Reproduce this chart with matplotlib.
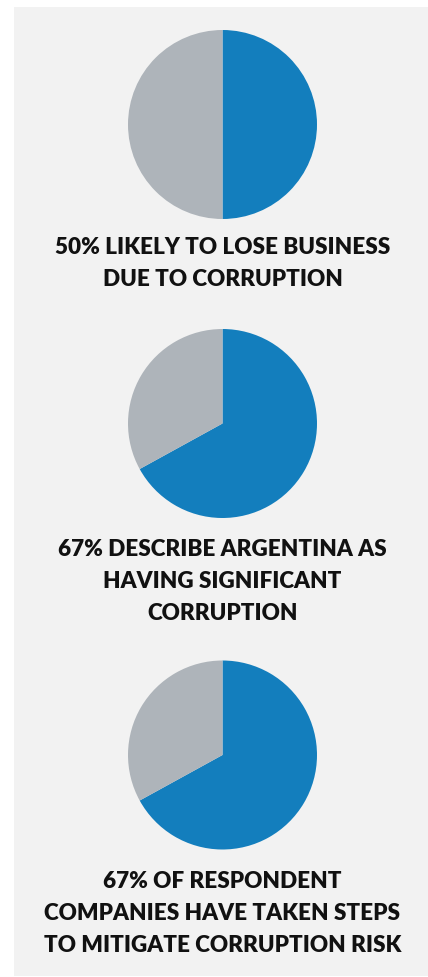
import matplotlib.pyplot as plt
from matplotlib.patches import Rectangle

# share of respondents (blue) vs rest (gray)
likely_lose = [50, 50]
significant = [67, 33]
mitigate = [67, 33]

captions = [
    ['50% LIKELY TO LOSE BUSINESS', 'DUE TO CORRUPTION'],
    ['67% DESCRIBE ARGENTINA AS', 'HAVING SIGNIFICANT', 'CORRUPTION'],
    ['67% OF RESPONDENT', 'COMPANIES HAVE TAKEN STEPS', 'TO MITIGATE CORRUPTION RISK'],
]

W, H = 428, 977
blue = '#137ebd'
grey = '#aeb4ba'
panel = '#f2f2f2'

fig = plt.figure(figsize=(W / 100, H / 100), dpi=100)
fig.patch.set_facecolor('white')
bg = fig.add_axes([0, 0, 1, 1], zorder=-10)
bg.add_patch(Rectangle((14 / W, 1 / H), 414 / W, 969 / H,
                       facecolor=panel, edgecolor='none'))
bg.set_xlim(0, 1)
bg.set_ylim(0, 1)
bg.axis('off')

pie_centers = [124.5, 423.5, 755]  # pixel y of each pie centre
caption_y = [[248, 280], [550, 582, 613], [882, 913, 945]]
r = 94.5
cx = 222.5

for vals, cy, lines, ys in zip([likely_lose, significant, mitigate],
                               pie_centers, captions, caption_y):
    ax = fig.add_axes([(cx - r) / W, (H - cy - r) / H, 2 * r / W, 2 * r / H])
    ax.pie(vals, colors=[blue, grey], startangle=90, counterclock=False,
           radius=1, wedgeprops=dict(linewidth=0))
    ax.set_xlim(-1, 1)
    ax.set_ylim(-1, 1)
    ax.axis('off')
    for line, y in zip(lines, ys):
        fig.text(cx / W, 1 - y / H, line, ha='center', va='center',
                 fontsize=16.2, fontweight='heavy', family='Lato', color='#111111')

plt.savefig('out.png', dpi=100)
